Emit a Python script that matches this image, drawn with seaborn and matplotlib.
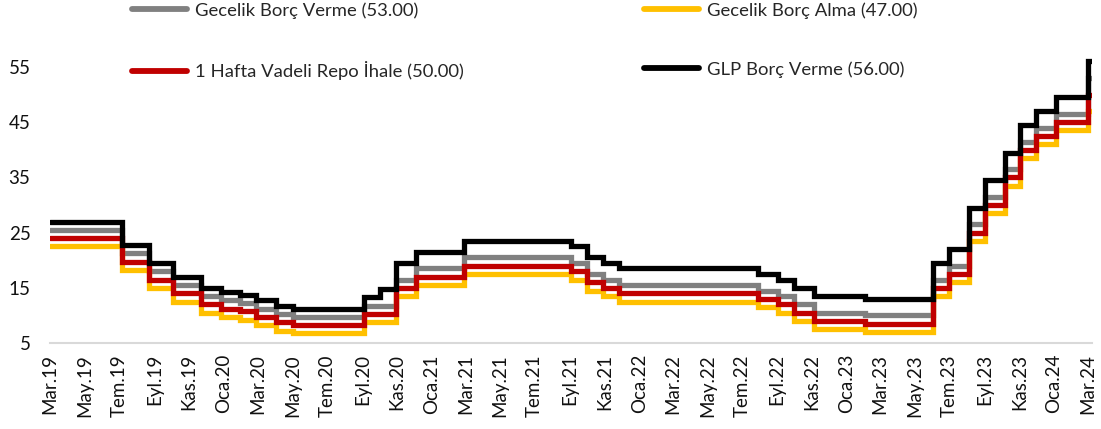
import matplotlib
matplotlib.use("Agg")
import matplotlib.pyplot as plt
import seaborn as sns
import pandas as pd

# ---- data (policy rate decisions, step values) ----
dates = ["2019-03-21", "2019-07-25", "2019-09-12", "2019-10-24", "2019-12-12",
         "2020-01-16", "2020-02-19", "2020-03-17", "2020-04-22", "2020-05-21",
         "2020-09-24", "2020-10-22", "2020-11-19", "2020-12-24", "2021-03-18",
         "2021-09-23", "2021-10-21", "2021-11-18", "2021-12-16", "2022-08-18",
         "2022-09-22", "2022-10-20", "2022-11-24", "2023-02-23", "2023-06-22",
         "2023-07-20", "2023-08-24", "2023-09-21", "2023-10-26", "2023-11-23",
         "2023-12-21", "2024-01-25", "2024-03-21", "2024-03-28"]

gecelik_borc_verme = [25.5, 21.25, 18, 15.5, 13.5, 12.75, 12.25, 11.25, 10.25, 9.75,
                      11.75, 11.75, 16.5, 18.5, 20.5, 19.5, 17.5, 16.5, 15.5, 14.5,
                      13.5, 12, 10.5, 10, 16.5, 19, 26.5, 31.5, 36.5, 41.5,
                      44, 46.5, 53, 53]
gecelik_borc_alma = [22.5, 18.25, 15, 12.5, 10.5, 9.75, 9.25, 8.25, 7.25, 6.75,
                     8.75, 8.75, 13.5, 15.5, 17.5, 16.5, 14.5, 13.5, 12.5, 11.5,
                     10.5, 9, 7.5, 7, 13.5, 16, 23.5, 28.5, 33.5, 38.5,
                     41, 43.5, 47, 47]
repo_1hafta = [24, 19.75, 16.5, 14, 12, 11.25, 10.75, 9.75, 8.75, 8.25,
               10.25, 10.25, 15, 17, 19, 18, 16, 15, 14, 13,
               12, 10.5, 9, 8.5, 15, 17.5, 25, 30, 35, 40,
               42.5, 45, 50, 50]
glp_borc_verme = [27, 22.75, 19.5, 17, 15, 14.25, 13.75, 12.75, 11.75, 11.25,
                  13.25, 14.75, 19.5, 21.5, 23.5, 22.5, 20.5, 19.5, 18.5, 17.5,
                  16.5, 15, 13.5, 13, 19.5, 22, 29.5, 34.5, 39.5, 44.5,
                  47, 49.5, 56, 56]

series_names = ["Gecelik Borç Verme (53.00)", "Gecelik Borç Alma (47.00)",
                "1 Hafta Vadeli Repo İhale (50.00)", "GLP Borç Verme (56.00)"]
series_values = [gecelik_borc_verme, gecelik_borc_alma, repo_1hafta, glp_borc_verme]
colors = ["#808080", "#FFC000", "#C00000", "#000000"]

tick_dates = ["2019-03-21", "2019-05-21", "2019-07-21", "2019-09-21", "2019-11-21",
              "2020-01-21", "2020-03-21", "2020-05-21", "2020-07-21", "2020-09-21",
              "2020-11-21", "2021-01-21", "2021-03-21", "2021-05-21", "2021-07-21",
              "2021-09-21", "2021-11-21", "2022-01-21", "2022-03-21", "2022-05-21",
              "2022-07-21", "2022-09-21", "2022-11-21", "2023-01-21", "2023-03-21",
              "2023-05-21", "2023-07-21", "2023-09-21", "2023-11-21", "2024-01-21",
              "2024-03-21"]
tick_labels = ["Mar.19", "May.19", "Tem.19", "Eyl.19", "Kas.19", "Oca.20", "Mar.20",
               "May.20", "Tem.20", "Eyl.20", "Kas.20", "Oca.21", "Mar.21", "May.21",
               "Tem.21", "Eyl.21", "Kas.21", "Oca.22", "Mar.22", "May.22", "Tem.22",
               "Eyl.22", "Kas.22", "Oca.23", "Mar.23", "May.23", "Tem.23", "Eyl.23",
               "Kas.23", "Oca.24", "Mar.24"]
y_ticks = [5, 15, 25, 35, 45, 55]

# ---- build frame ----
rows = []
for name, vals in zip(series_names, series_values):
    for d, v in zip(dates, vals):
        rows.append({"date": pd.Timestamp(d), "value": v, "series": name})
df = pd.DataFrame(rows)

sns.set_style("white")
plt.rcParams["font.family"] = ["Lato", "DejaVu Sans"]

fig = plt.figure(figsize=(11.01, 4.29), dpi=100)
ax = fig.add_axes([50 / 1101, 1 - 343 / 429, (1092 - 50) / 1101, (343 - 39.4) / 429])

handles = {}
for name, col in zip(series_names, colors):
    sub = df[df["series"] == name]
    sns.lineplot(data=sub, x="date", y="value", ax=ax, color=col, linewidth=3.8,
                 drawstyle="steps-post", legend=False, estimator=None,
                 solid_joinstyle="miter")
    handles[name] = ax.lines[-1]

ax.set_xlim(pd.Timestamp(dates[0]), pd.Timestamp(dates[-1]))
ax.set_ylim(5, 60)
ax.set_yticks(y_ticks)
ax.set_xticks([pd.Timestamp(t) for t in tick_dates])
ax.set_xticklabels(tick_labels, rotation=90)
ax.set_xlabel("")
ax.set_ylabel("")

for s in ["top", "right", "left"]:
    ax.spines[s].set_visible(False)
ax.spines["bottom"].set_color("#D9D9D9")
ax.spines["bottom"].set_linewidth(1.5)
ax.tick_params(axis="both", length=0, labelsize=13.5, colors="#111111")
ax.tick_params(axis="y", pad=14)
ax.tick_params(axis="x", pad=8)
ax.grid(False)

leg_kw = dict(loc="upper left", frameon=False, fontsize=13.3, handlelength=3.0,
              handletextpad=0.4, labelspacing=2.3, borderpad=0, borderaxespad=0)
l1 = fig.legend([handles[series_names[0]], handles[series_names[2]]],
                [series_names[0], series_names[2]],
                bbox_to_anchor=(132 / 1101, 1 - 2 / 429), **leg_kw)
l2 = fig.legend([handles[series_names[1]], handles[series_names[3]]],
                [series_names[1], series_names[3]],
                bbox_to_anchor=(644 / 1101, 1 - 2 / 429), **leg_kw)
for lg in (l1, l2):
    for h in lg.legend_handles:
        h.set_linewidth(4.2)
        h.set_solid_capstyle("round")

fig.savefig("out.png", dpi=100)
